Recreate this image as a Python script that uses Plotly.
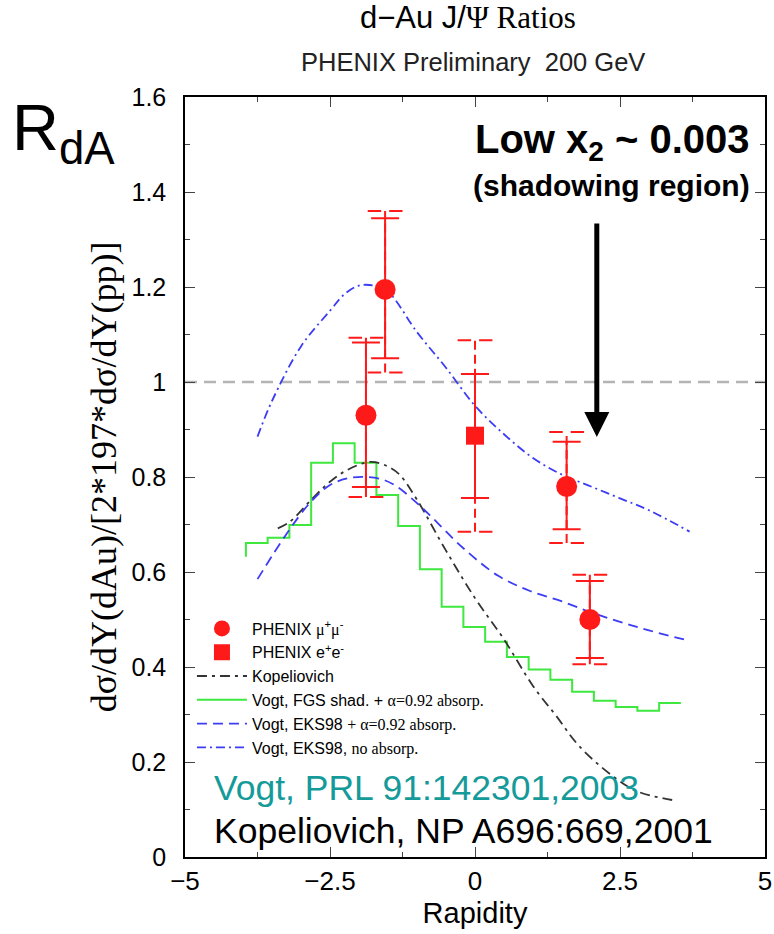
import plotly.graph_objects as go

# ---------------- data ----------------
# PHENIX mu+mu- points
mu_x = [-1.88, -1.55, 1.58, 1.98]
mu_y = [0.93, 1.195, 0.78, 0.50]
mu_stat_up = [0.153, 0.150, 0.094, 0.081]
mu_stat_dn = [0.151, 0.145, 0.090, 0.081]
mu_sys_up = [0.163, 0.165, 0.115, 0.094]
mu_sys_dn = [0.172, 0.175, 0.119, 0.094]

# PHENIX e+e- point
ee_x = [0.0]
ee_y = [0.887]
ee_stat_up = [0.130]
ee_stat_dn = [0.131]
ee_sys_up = [0.201]
ee_sys_dn = [0.202]

# Kopeliovich curve
kop_x = [-3.4, -3.2, -2.8, -2.5, -2.2, -1.8, -1.5, -1.3, -1.0, -0.5, 0.0, 0.5, 1.0, 1.4, 1.8, 2.4, 2.8, 3.4]
kop_y = [0.692, 0.705, 0.755, 0.79, 0.815, 0.832, 0.822, 0.805, 0.752, 0.645, 0.545, 0.458, 0.36, 0.297, 0.233, 0.168, 0.138, 0.12]

# Vogt FGS shadowing + absorption (histogram)
fgs_edges = [-3.95, -3.575, -3.2, -2.825, -2.45, -2.075, -1.7, -1.325, -0.95, -0.575, -0.2,
             0.175, 0.55, 0.925, 1.3, 1.675, 2.05, 2.425, 2.8, 3.175, 3.55]
fgs_start = 0.632
fgs_vals = [0.661, 0.672, 0.699, 0.830, 0.871, 0.830, 0.762, 0.697, 0.606, 0.527,
            0.484, 0.453, 0.421, 0.395, 0.373, 0.348, 0.329, 0.316, 0.308, 0.324]

# Vogt EKS98 + absorption
eksa_x = [-3.75, -3.25, -2.85, -2.5, -2.2, -1.9, -1.6, -1.35, -1.0, -0.75, -0.2, 0.4, 0.95, 1.5, 2.0, 2.5, 3.0, 3.7]
eksa_y = [0.585, 0.68, 0.745, 0.783, 0.797, 0.80, 0.795, 0.78, 0.745, 0.716, 0.65, 0.592, 0.56, 0.538, 0.515, 0.495, 0.477, 0.455]

# Vogt EKS98, no absorption
eksn_x = [-3.75, -3.5, -3.0, -2.5, -2.25, -2.0, -1.75, -1.5, -1.0, -0.5, 0.0, 0.5, 1.0, 1.5, 2.0, 2.5, 3.0, 3.7]
eksn_y = [0.885, 0.96, 1.075, 1.15, 1.185, 1.203, 1.203, 1.19, 1.105, 1.03, 0.95, 0.89, 0.84, 0.805, 0.78, 0.755, 0.73, 0.685]

# reference line
ref_x = [-5, 5]
ref_y = [1, 1]

# ---------------- styles ----------------
RED = "#ff1a1a"
BLUE = "#3c3cf5"
GREEN = "#3ee83e"
SANS = "Liberation Sans, Arial, sans-serif"
SERIF = "Liberation Serif, Times New Roman, serif"
CAP_HALF = 0.30  # half width of systematic caps (x units)


def sys_traces(xs, ys, ups, dns):
    sx, sy, cx, cy = [], [], [], []
    for x, y, u, d in zip(xs, ys, ups, dns):
        sx += [x, x, None]
        sy += [y - d, y + u, None]
        for yy in (y - d, y + u):
            cx += [x - CAP_HALF, x + CAP_HALF, None]
            cy += [yy, yy, None]
    return sx, sy, cx, cy


fig = go.Figure()

fig.add_trace(go.Scatter(x=ref_x, y=ref_y, mode="lines", showlegend=False, hoverinfo="skip",
                         line=dict(color="#b4b4b4", width=2.5, dash="12px,7px")))

# histogram points for step line
hx = [fgs_edges[0]] + fgs_edges[:-1] + [fgs_edges[-1]]
hy = [fgs_start] + fgs_vals + [fgs_vals[-1]]
fig.add_trace(go.Scatter(x=hx, y=hy, mode="lines", line_shape="hv",
                         name="Vogt, FGS shad. + <span style='font-family:Liberation Serif'>α=0.92 absorp.</span>",
                         line=dict(color=GREEN, width=2), legendrank=4))

fig.add_trace(go.Scatter(x=kop_x, y=kop_y, mode="lines", line_shape="spline", name="Kopeliovich",
                         line=dict(color="#333333", width=1.8, dash="10px,5px,3px,5px"), legendrank=3))

fig.add_trace(go.Scatter(x=eksa_x, y=eksa_y, mode="lines", line_shape="spline",
                         name="Vogt, EKS98 <span style='font-family:Liberation Serif'>+ α=0.92 absorp.</span>",
                         line=dict(color=BLUE, width=1.8, dash="10px,6px"), legendrank=5))

fig.add_trace(go.Scatter(x=eksn_x, y=eksn_y, mode="lines", line_shape="spline",
                         name="Vogt, EKS98, <span style='font-family:Liberation Serif'>no absorp.</span>",
                         line=dict(color=BLUE, width=1.8, dash="9px,4px,2px,4px"), legendrank=6))

# systematic errors (dashed)
allx = mu_x + ee_x
ally = mu_y + ee_y
sx, sy, cx, cy = sys_traces(allx, ally, mu_sys_up + ee_sys_up, mu_sys_dn + ee_sys_dn)
fig.add_trace(go.Scatter(x=sx, y=sy, mode="lines", showlegend=False, hoverinfo="skip",
                         line=dict(color=RED, width=2, dash="9px,5px")))
fig.add_trace(go.Scatter(x=cx, y=cy, mode="lines", showlegend=False, hoverinfo="skip",
                         line=dict(color=RED, width=2, dash="13.5px,8px")))

# data points with stat errors
fig.add_trace(go.Scatter(x=mu_x, y=mu_y, mode="markers",
                         name="PHENIX <span style='font-family:Liberation Serif'>μ</span><sup>+</sup><span style='font-family:Liberation Serif'>μ</span><sup>-</sup>",
                         marker=dict(symbol="circle", size=21, color=RED),
                         error_y=dict(type="data", symmetric=False, array=mu_stat_up, arrayminus=mu_stat_dn,
                                      color=RED, thickness=2, width=14),
                         legendrank=1))
fig.add_trace(go.Scatter(x=ee_x, y=ee_y, mode="markers",
                         name="PHENIX e<sup>+</sup>e<sup>-</sup>",
                         marker=dict(symbol="square", size=18, color=RED),
                         error_y=dict(type="data", symmetric=False, array=ee_stat_up, arrayminus=ee_stat_dn,
                                      color=RED, thickness=2, width=14),
                         legendrank=2))

fig.update_layout(
    width=774, height=934,
    margin=dict(l=185, r=9, t=97, b=77, autoexpand=False),
    paper_bgcolor="white", plot_bgcolor="white",
    font=dict(family=SANS, color="black"),
    legend=dict(x=0.012, y=0.323, xanchor="left", yanchor="top", bgcolor="rgba(0,0,0,0)",
                font=dict(size=16, family=SANS), itemwidth=50, tracegroupgap=0),
    xaxis=dict(range=[-5, 5], tick0=-5, dtick=2.5, ticks="inside", ticklen=10, tickwidth=1.2,
               minor=dict(dtick=1.25, ticks="inside", ticklen=5, tickwidth=1.2),
               showline=True, linecolor="black", linewidth=1.5, mirror="ticks", automargin=False,
               showgrid=False, zeroline=False, tickfont=dict(size=26),
               title=dict(text="Rapidity", font=dict(size=29), standoff=8)),
    yaxis=dict(range=[0, 1.6], tick0=0, dtick=0.2, ticks="inside", ticklen=10, tickwidth=1.2,
               minor=dict(dtick=0.1, ticks="inside", ticklen=5, tickwidth=1.2),
               showline=True, linecolor="black", linewidth=1.5, mirror="ticks", automargin=False,
               showgrid=False, zeroline=False, tickfont=dict(size=25), ticklabelstandoff=12,
               title=dict(text="dσ/dY(dAu)/[2*197*dσ/dY(pp)]", font=dict(size=36, family=SERIF), standoff=4)),
)

ann = [
    dict(text="d−Au J/<span style='font-family:Liberation Serif'>Ψ Ratios</span>", x=0.488, y=1.104,
         font=dict(size=31)),
    dict(text="PHENIX Preliminary  200 GeV", x=0.497, y=1.046, font=dict(size=25.5, color="#222")),
    dict(text="R<sub>dA</sub>", x=-0.302, y=0.953, xanchor="left", font=dict(size=65)),
    dict(text="<b>Low x<sub>2</sub> ~ 0.003</b>", x=0.978, y=0.941, xanchor="right", font=dict(size=40)),
    dict(text="<b>(shadowing region)</b>", x=0.978, y=0.883, xanchor="right", font=dict(size=30)),
    dict(text="Vogt, PRL 91:142301,2003", x=0.047, y=0.091, xanchor="left",
         font=dict(size=35.5, color="#159a9a")),
    dict(text="Kopeliovich, NP A696:669,2001", x=0.047, y=0.034, xanchor="left",
         font=dict(size=35.5, color="black")),
]
for a in ann:
    a.setdefault("xref", "paper")
    a.setdefault("yref", "paper")
    a.setdefault("yanchor", "middle")
    a.setdefault("xanchor", "center")
    a.setdefault("showarrow", False)
    fig.add_annotation(**a)

# arrow
fig.add_annotation(x=2.1, y=0.884, ax=2.1, ay=1.337, xref="x", yref="y", axref="x", ayref="y",
                   text="", showarrow=True, arrowhead=2, arrowsize=1, arrowwidth=5, arrowcolor="black")

fig.write_html("out.html")
